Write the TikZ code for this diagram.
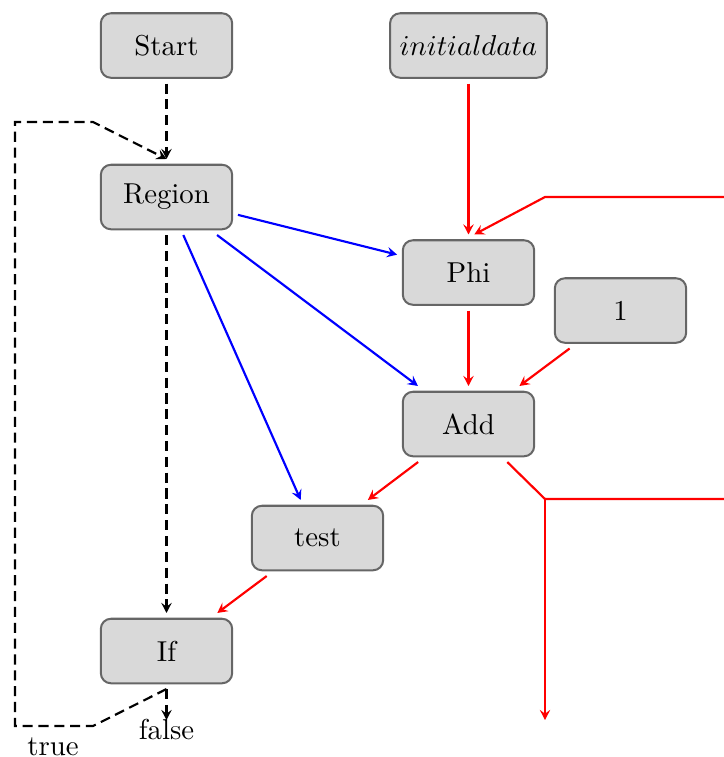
\documentclass[tikz,border=0pt]{standalone}
\usetikzlibrary{arrows.meta}
\begin{document}
\begin{tikzpicture}[x=0.3472pt,y=-0.3472pt,
  blk/.style={draw=black!60, fill=black!15, rounded corners=3.5pt, line width=0.7pt,
    minimum width=45.6pt, minimum height=22.4pt, outer sep=2pt},
  conn/.style={line width=0.75pt, -{Stealth[length=3.5pt,width=3.6pt,inset=1.3pt]}},
  ctrl/.style={conn, black, dash pattern=on 3.5pt off 2pt},
  dat/.style={conn, red},
  dep/.style={conn, blue},
  wire/.style={line width=0.75pt, red}]
\useasboundingbox (0,0) rectangle (724,757);

% blocks
\node[blk] (start)  at (166.5,45.5) {Start};
\node[blk] (init)   at (468.5,45.5) {$initialdata$};
\node[blk] (region) at (166.5,197)  {Region};
\node[blk] (phi)    at (468.5,272.5) {Phi};
\node[blk] (one)    at (620.5,310.5) {1};
\node[blk] (add)    at (468.5,424)  {Add};
\node[blk] (test)   at (317.5,538)  {test};
\node[blk] (if)     at (166.5,651)  {If};
\node (false) at (166.5,729) {false};
\node (true)  at (53,747) {true};

% bend points
\coordinate (lb1) at (93,726);
\coordinate (lb2) at (15,726);
\coordinate (lt1) at (15,122);
\coordinate (lt2) at (93,122);
\coordinate (fend) at (166.5,720);
\coordinate (rin)   at (545,197);
\coordinate (rinE)  at (724,197);
\coordinate (rout)  at (545,499);
\coordinate (routE) at (724,499);
\coordinate (routS) at (545,720);

% control flow
\draw[ctrl] (start) -- (region);
\draw[ctrl] (region) -- (if);
\draw[ctrl] (if.south) -- (lb1) -- (lb2) -- (lt1) -- (lt2) -- (region.north);
\draw[ctrl] (if.south) -- (fend);

% dependencies
\draw[dep] (region) -- (phi);
\draw[dep] (region) -- (add);
\draw[dep] (region) -- (test);

% data flow
\draw[dat] (init) -- (phi);
\draw[dat] (phi) -- (add);
\draw[dat] (one) -- (add);
\draw[dat] (add) -- (test);
\draw[dat] (test) -- (if);
\draw[dat] (rinE) -- (rin) -- ([xshift=2pt]phi.north);
\draw[wire] (add) -- (rout) -- (routE);
\draw[dat] (rout) -- (routS);
\end{tikzpicture}
\end{document}
